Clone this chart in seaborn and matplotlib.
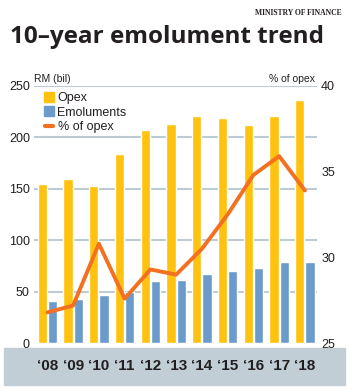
import matplotlib
matplotlib.use("Agg")
import matplotlib.pyplot as plt
import seaborn as sns
import pandas as pd
from matplotlib.lines import Line2D
from matplotlib.patches import Rectangle

years = ["\u201808", "\u201809", "\u201810", "\u201811", "\u201812", "\u201813",
         "\u201814", "\u201815", "\u201816", "\u201817", "\u201818"]
opex = [155, 159, 153, 184, 207, 213, 221, 219, 212, 221, 236]
emoluments = [41, 43, 47, 50, 60, 61, 67, 70, 73, 79, 79]
pct_of_opex = [26.8, 27.2, 30.8, 27.6, 29.3, 29.0, 30.5, 32.5, 34.8, 35.9, 33.9]
left_ticks = [0, 50, 100, 150, 200, 250]
right_ticks = [25, 30, 35, 40]

C_OPEX = "#ffc20e"
C_EMOL = "#6a9bcb"
C_LINE = "#f37021"
C_GRID = "#bccbd4"
C_BAND = "#c1ced6"
C_TEXT = "#231f20"

sns.set_theme(style="white")
plt.rcParams['font.family'] = ['Liberation Sans', 'DejaVu Sans']

W, H = 349, 389
fig = plt.figure(figsize=(W / 100, H / 100), dpi=100)
fig.patch.set_facecolor("white")

# grey band behind x labels
fig.add_artist(Rectangle((4 / W, (H - 385) / H), 341 / W, (385 - 347.7) / H,
                         transform=fig.transFigure, color=C_BAND, zorder=-5))

ax = fig.add_axes([34 / W, (H - 343.3) / H, 283 / W, (343.3 - 85.7) / H])
ax.patch.set_alpha(0)

df = pd.DataFrame({
    "year": years * 2,
    "value": opex + emoluments,
    "series": ["Opex"] * len(years) + ["Emoluments"] * len(years),
})
sns.barplot(data=df, x="year", y="value", hue="series",
            palette={"Opex": C_OPEX, "Emoluments": C_EMOL},
            width=0.8, gap=0.1, saturation=1, legend=False, ax=ax, zorder=2)

ax2 = ax.twinx()
sns.lineplot(x=list(range(len(years))), y=pct_of_opex, color=C_LINE, lw=2.8,
             ax=ax2, legend=False)

ax.set_xlim(-0.52, 10.47)
ax.set_ylim(0, 250)
ax.set_yticks(left_ticks)
ax.set_xticks(range(len(years)), years)
ax.set_xlabel("")
ax.set_ylabel("")
ax.set_axisbelow(True)
ax.grid(axis="y", color=C_GRID, lw=1.5)
ax.grid(axis="x", visible=False)
ax.get_ygridlines()[0].set_visible(False)
for s in ax.spines.values():
    s.set_visible(False)
ax.tick_params(axis="y", length=0, pad=3, labelsize=9, labelcolor=C_TEXT)
ax.tick_params(axis="x", length=0, pad=11, labelcolor=C_TEXT, labelbottom=True)
for lab in ax.get_xticklabels():
    lab.set_fontsize(11)
    lab.set_fontweight("bold")

ax2.set_ylim(25, 40)
ax2.set_yticks(right_ticks)
ax2.set_ylabel("")
ax2.grid(False)
for s in ax2.spines.values():
    s.set_visible(False)
ax2.tick_params(axis="y", length=0, pad=3, labelsize=9, labelcolor=C_TEXT)

# texts
fig.text(10 / W, (H - 43.3) / H, "10\u2013year emolument trend", fontsize=17.5,
         fontweight="bold", family=["Open Sans", "DejaVu Sans"], color=C_TEXT, va="baseline")
fig.text(342 / W, (H - 15) / H, "MINISTRY OF FINANCE", fontsize=5.5, fontweight="bold",
         family=["Liberation Serif", "DejaVu Serif"], color=C_TEXT, ha="right", va="baseline")
fig.text(34 / W, (H - 81.5) / H, "RM (bil)", fontsize=7.5, color=C_TEXT, va="baseline")
fig.text(315 / W, (H - 81.5) / H, "% of opex", fontsize=7.5, color=C_TEXT, va="baseline", ha="right")

handles = [
    Line2D([], [], ls="", marker="s", markersize=7, color=C_OPEX),
    Line2D([], [], ls="", marker="s", markersize=7, color=C_EMOL),
    Line2D([], [], color=C_LINE, lw=3),
]
fig.legend(handles, ["Opex", "Emoluments", "% of opex"], loc="upper left",
           bbox_to_anchor=(45 / W, (H - 92) / H), frameon=False, fontsize=9,
           handlelength=0.6, handletextpad=0.4, labelspacing=0.2,
           borderpad=0, borderaxespad=0, labelcolor=C_TEXT)

fig.savefig("out.png", dpi=100, facecolor="white")
